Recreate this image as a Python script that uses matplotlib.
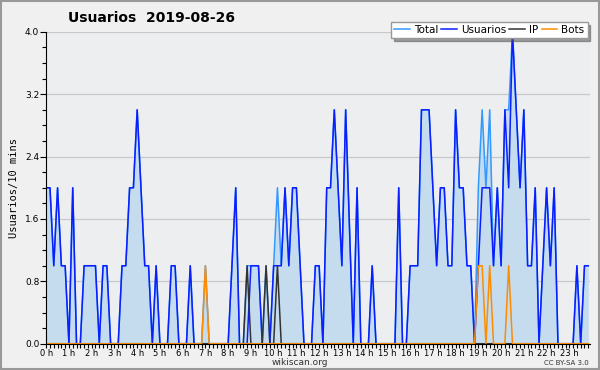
import matplotlib
matplotlib.use('Agg')
import matplotlib.pyplot as plt
import matplotlib.patches as patches
import numpy as np

# Data: users per 10-minute slot (144 slots = 24 h)
usuarios = [2, 2, 1, 2, 1, 1, 0, 2, 0, 0, 1, 1, 1, 1, 0, 1, 1, 0, 0, 0,
            1, 1, 2, 2, 3, 2, 1, 1, 0, 1, 0, 0, 0, 1, 1, 0, 0, 0, 1, 0,
            0, 0, 0, 0, 0, 0, 0, 0, 0, 1, 2, 0, 0, 0, 1, 1, 1, 0, 0, 0,
            1, 1, 1, 2, 1, 2, 2, 1, 0, 0, 0, 1, 1, 0, 2, 2, 3, 2, 1, 3,
            1.5, 0, 2, 0, 0, 0, 1, 0, 0, 0, 0, 0, 0, 2, 0, 0, 1, 1, 1, 3,
            3, 3, 2, 1, 2, 2, 1, 1, 3, 2, 2, 1, 1, 0, 1, 2, 2, 2, 1, 2,
            1, 3, 2, 4, 3, 2, 3, 1, 1, 2, 0, 1, 2, 1, 2, 0, 0, 0, 0, 0,
            1, 0, 1, 1]
ip_slots = [53, 58, 61]
ip_vals = [1, 1, 1]
bot_slots = [42, 114, 115, 117, 122]
bot_vals = [1, 1, 1, 1, 1]
hour_labels = [f'{h} h' for h in range(24)]

n = len(usuarios)
x = np.arange(n) / 6.0
ip = np.zeros(n)
ip[ip_slots] = ip_vals
bots = np.zeros(n)
bots[bot_slots] = bot_vals
usu = np.array(usuarios, dtype=float)
total = usu + ip + bots

fig = plt.figure(figsize=(6, 3.7), dpi=100, facecolor='#f0f0f0')
ax = fig.add_axes([0.077, 0.071, 0.906, 0.843])
ax.set_facecolor('#eceef0')

ax.fill_between(x, 0, total, color='#c5dcef', lw=0, zorder=1)
ax.plot(x, total, color='#3399ff', lw=1.1, label='Total', zorder=2)
ax.plot(x, usu, color='#0a1eff', lw=1.1, label='Usuarios', zorder=3)
ax.plot(x, ip, color='#333333', lw=1.1, label='IP', zorder=4)
ax.plot(x, bots, color='#ff8c00', lw=1.1, label='Bots', zorder=5)

ax.set_xlim(0, 23.9)
ax.set_ylim(0, 4.0)
ax.set_yticks([0.0, 0.8, 1.6, 2.4, 3.2, 4.0])
ax.set_yticklabels(['0.0', '0.8', '1.6', '2.4', '3.2', '4.0'])
ax.set_yticks(np.arange(0, 4.01, 0.2), minor=True)
ax.set_xticks(np.arange(24))
ax.set_xticklabels(hour_labels)
ax.set_xticks(np.arange(0, 23.9, 1 / 6), minor=True)
ax.tick_params(axis='y', which='major', labelsize=6.5, length=4, width=0.8, pad=1)
ax.tick_params(axis='x', which='major', labelsize=6, length=3, width=0.8, pad=0.5)
ax.tick_params(axis='both', which='minor', length=3, width=0.8)
ax.grid(axis='y', which='major', color='#c8c8c8', lw=0.9)
ax.set_axisbelow(True)
for s in ['top', 'right']:
    ax.spines[s].set_visible(False)
for s in ['left', 'bottom']:
    ax.spines[s].set_zorder(6)

ax.set_ylabel('Usuarios/10 mins', family='DejaVu Sans Mono', fontsize=7.5, labelpad=4)
fig.text(0.252, 0.952, 'Usuarios  2019-08-26', fontsize=10, fontweight='bold',
         ha='center', va='center')
fig.text(0.5, 0.019, 'wikiscan.org', fontsize=6.5, ha='center', va='center', color='#333333')
fig.text(0.982, 0.019, 'CC BY-SA 3.0', fontsize=5, ha='right', va='center', color='#333333')

leg = ax.legend(loc='upper right', bbox_to_anchor=(0.988, 0.955),
                bbox_transform=fig.transFigure, ncol=4, fontsize=7.5,
                handlelength=1.5, handletextpad=0.4, columnspacing=0.3,
                borderpad=0.3, fancybox=False, shadow=True, framealpha=1)
leg.get_frame().set_edgecolor('#999999')
leg.get_frame().set_facecolor('white')

fig.patches.append(patches.Rectangle((0.001, 0.002), 0.997, 0.995, transform=fig.transFigure,
                                     fill=False, edgecolor='#999999', lw=1.5))

fig.savefig('out.png', dpi=100, facecolor=fig.get_facecolor())
